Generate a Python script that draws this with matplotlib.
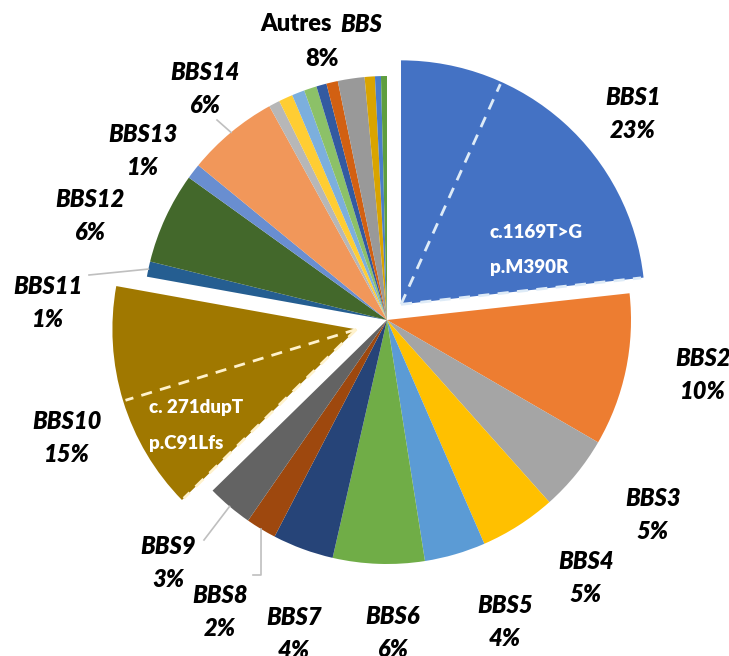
import numpy as np
import matplotlib
matplotlib.use("Agg")
import matplotlib.pyplot as plt

W, H = 729, 656

# main genes (percent of patients)
genes = ["BBS1", "BBS2", "BBS3", "BBS4", "BBS5", "BBS6", "BBS7",
         "BBS8", "BBS9", "BBS10", "BBS11", "BBS12", "BBS13", "BBS14"]
shares = [23, 10, 5, 5, 4, 6, 4, 2, 3, 15, 1, 6, 1, 6]
gene_colors = ["#4472C4", "#ED7D31", "#A5A5A5", "#FFC000", "#5B9BD5", "#70AD47",
               "#264478", "#9E480E", "#636363", "#A07800", "#255E91", "#43682B",
               "#698ED0", "#F1975A"]

# "Autres BBS" (8 %) split into the small genes
other_shares = [0.72, 0.92, 0.83, 0.83, 0.67, 0.75, 1.75, 0.67, 0.39, 0.39]
other_colors = ["#B7B7B7", "#FFCD33", "#7CAFDD", "#8CC168", "#335AA1", "#D26012",
                "#999999", "#D9A400", "#4A7DC9", "#5E9E3F"]
other_label = 8

# recurrent mutations: share of the gene slice, text
mutations = {"BBS1": (0.71, ["c.1169T>G", "p.M390R"]),
             "BBS10": (0.50, ["c. 271dupT", "p.C91Lfs"])}

# layout (pixel positions, y from top)
center = (387, H - 320)
radius = 244
explode_px = {"BBS1": 21, "BBS10": 32}
label_pos = {"BBS1": (633, 114), "BBS2": (703, 375), "BBS3": (653, 515),
             "BBS4": (586, 578), "BBS5": (505, 622), "BBS6": (393, 633),
             "BBS7": (294, 634), "BBS8": (220, 612), "BBS9": (168, 563),
             "BBS10": (67, 438), "BBS11": (48, 303), "BBS12": (90, 216),
             "BBS13": (143, 151), "BBS14": (205, 89)}
leader_end = {"BBS11": [(89, 275)], "BBS14": [(217, 120)],
              "BBS9": [(204, 540)], "BBS8": [(261, 575), (253, 575)]}
mut_text_pos = {"BBS1": (490, 233), "BBS10": (149, 408)}
dash_colors = {"BBS1": "#DEEBF7", "BBS10": "#FFF2CC"}

plt.rcParams['font.family'] = ['Lato', 'DejaVu Sans']
WEIGHT = "heavy"

fig = plt.figure(figsize=(W / 100, H / 100), dpi=100)
ax = fig.add_axes([0, 0, 1, 1])

values = shares + other_shares
colors = gene_colors + other_colors
explode = [explode_px.get(g, 0) for g in genes] + [0] * len(other_shares)

wedges, _ = ax.pie(values, colors=colors, explode=explode, startangle=90,
                   counterclock=False, center=center, radius=radius,
                   wedgeprops=dict(linewidth=0))
ax.set_xlim(0, W)
ax.set_ylim(0, H)
ax.set_aspect("equal")
ax.axis("off")


def arc_point(cx, cy, ang, r=radius):
    a = np.deg2rad(ang)
    return cx + r * np.cos(a), cy + r * np.sin(a)


# labels
for g, s in zip(genes, shares):
    x, y = label_pos[g]
    ax.text(x, H - y, f"{g}\n{s}%", ha="center", va="center", fontsize=17,
            fontweight=WEIGHT, fontstyle="italic", linespacing=1.5, color="black")

ax.text(337, H - 24, "Autres ", ha="right", va="center", fontsize=17,
        fontweight=WEIGHT)
ax.text(340, H - 24, "BBS", ha="left", va="center", fontsize=17,
        fontweight=WEIGHT, fontstyle="italic")
ax.text(322, H - 59, f"{other_label}%", ha="center", va="center", fontsize=17,
        fontweight=WEIGHT)

# leader lines
for g, pts in leader_end.items():
    w = wedges[genes.index(g)]
    mid = (w.theta1 + w.theta2) / 2
    x0, y0 = arc_point(w.center[0], w.center[1], mid)
    xs = [x0] + [p[0] for p in pts]
    ys = [y0] + [H - p[1] for p in pts]
    ax.plot(xs, ys, color="#BFBFBF", lw=1.2)

# recurrent mutation: dashed split inside the exploded slices
for g, (frac, lines) in mutations.items():
    w = wedges[genes.index(g)]
    cx, cy = w.center
    if g == "BBS1":
        edge = w.theta1
        split = w.theta1 + frac * (w.theta2 - w.theta1)
    else:
        edge = w.theta2
        split = w.theta2 - frac * (w.theta2 - w.theta1)
    for ang in (edge, split):
        x1, y1 = arc_point(cx, cy, ang, radius * 0.99)
        ax.plot([cx, x1], [cy, y1], color=dash_colors[g], lw=2,
                linestyle=(0, (4, 3)), solid_capstyle="butt")
    tx, ty = mut_text_pos[g]
    ax.text(tx, H - ty, lines[0], ha="left", va="center", fontsize=13.5,
            fontweight=WEIGHT, color="white")
    ax.text(tx, H - ty - 35, lines[1], ha="left", va="center", fontsize=13.5,
            fontweight=WEIGHT, color="white")

fig.savefig("out.png", dpi=100)
